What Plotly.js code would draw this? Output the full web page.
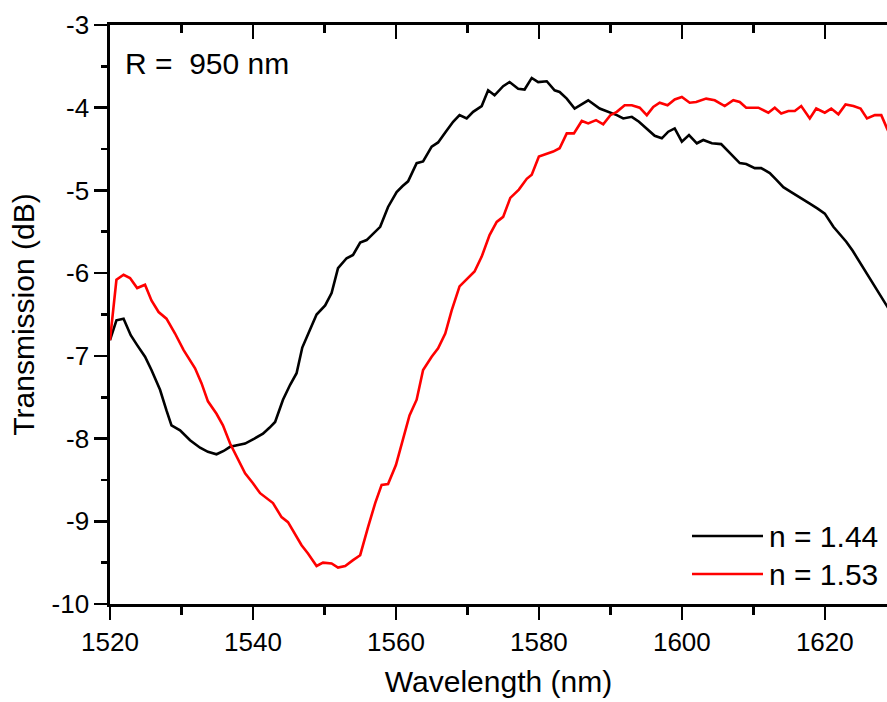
<!DOCTYPE html>
<html>
<head>
<meta charset="utf-8">
<script src="https://cdn.plot.ly/plotly-3.0.1.min.js"></script>
<style>
  html, body { margin: 0; padding: 0; background: #ffffff; overflow: hidden; }
  #chart { width: 887px; height: 702px; }
</style>
</head>
<body>
<div id="chart"></div>
<script>
// ---- data ----
const seriesNames = ["n = 1.44", "n = 1.53"];
const seriesColors = ["#000000", "#ff0000"];

const wlA = [1520.0,1520.9,1521.9,1522.9,1523.8,1524.9,1525.8,1527.0,1527.9,1528.6,1529.8,1531.2,1532.6,1533.7,1534.9,1535.9,1536.8,1538.0,1538.9,1540.2,1541.4,1542.3,1543.1,1544.2,1545.2,1546.1,1546.9,1547.9,1548.9,1550.1,1551.0,1551.9,1553.1,1554.0,1555.0,1555.9,1556.9,1557.8,1558.9,1560.1,1560.9,1561.7,1562.9,1563.8,1565.0,1565.9,1566.9,1568.0,1568.9,1569.9,1570.8,1572.0,1572.9,1573.8,1575.0,1575.9,1577.1,1578.0,1579.0,1579.9,1581.1,1582.2,1582.9,1583.9,1585.0,1586.0,1586.9,1588.5,1589.7,1590.9,1591.8,1593.0,1594.0,1594.8,1596.2,1597.2,1598.1,1599.0,1600.0,1601.0,1602.1,1603.0,1604.2,1605.5,1606.7,1608.1,1609.0,1610.2,1611.1,1612.3,1613.2,1614.2,1615.3,1616.5,1617.9,1619.0,1620.0,1621.2,1622.1,1623.0,1623.9,1624.7,1625.8,1626.9,1628.0,1629.0];
const tA = [-6.81,-6.57,-6.55,-6.75,-6.87,-7.01,-7.17,-7.41,-7.66,-7.84,-7.90,-8.02,-8.11,-8.16,-8.19,-8.15,-8.10,-8.08,-8.06,-8.00,-7.94,-7.87,-7.80,-7.53,-7.35,-7.21,-6.90,-6.70,-6.50,-6.39,-6.24,-5.94,-5.82,-5.78,-5.63,-5.60,-5.52,-5.44,-5.20,-5.02,-4.95,-4.89,-4.67,-4.65,-4.47,-4.42,-4.30,-4.17,-4.09,-4.13,-4.05,-3.98,-3.79,-3.85,-3.74,-3.69,-3.77,-3.78,-3.64,-3.69,-3.68,-3.79,-3.81,-3.89,-4.01,-3.96,-3.91,-4.01,-4.05,-4.09,-4.13,-4.11,-4.17,-4.23,-4.34,-4.37,-4.29,-4.25,-4.41,-4.33,-4.43,-4.39,-4.43,-4.44,-4.55,-4.67,-4.68,-4.73,-4.73,-4.79,-4.87,-4.96,-5.02,-5.08,-5.16,-5.22,-5.28,-5.44,-5.53,-5.62,-5.73,-5.84,-5.99,-6.15,-6.30,-6.44];

const wlB = [1520.0,1520.9,1521.9,1522.8,1523.8,1524.9,1525.8,1526.8,1527.9,1529.1,1530.3,1531.9,1532.8,1533.7,1534.9,1535.8,1536.8,1537.7,1538.9,1540.0,1541.0,1542.8,1544.0,1544.9,1545.8,1546.8,1547.7,1548.9,1549.8,1551.0,1551.9,1552.9,1554.0,1555.0,1556.1,1557.1,1558.0,1558.9,1560.0,1561.0,1561.9,1562.9,1563.8,1565.0,1565.9,1566.9,1567.8,1568.9,1570.1,1571.0,1572.0,1573.1,1574.1,1575.0,1576.0,1577.2,1578.3,1579.0,1580.0,1581.0,1582.0,1582.9,1583.9,1584.9,1586.0,1586.9,1588.0,1589.0,1590.0,1590.9,1592.0,1593.0,1594.1,1595.1,1596.0,1596.9,1598.0,1599.0,1600.0,1601.1,1602.0,1603.4,1604.6,1606.0,1607.2,1608.1,1609.0,1610.7,1612.1,1613.0,1613.9,1614.9,1615.8,1616.7,1617.9,1618.8,1620.0,1620.9,1621.9,1622.9,1624.0,1625.0,1625.9,1627.0,1627.9,1628.7,1629.5];
const tB = [-6.81,-6.08,-6.02,-6.06,-6.18,-6.14,-6.33,-6.47,-6.55,-6.73,-6.93,-7.15,-7.33,-7.55,-7.70,-7.84,-8.06,-8.22,-8.42,-8.54,-8.66,-8.78,-8.95,-9.01,-9.14,-9.29,-9.39,-9.54,-9.50,-9.51,-9.56,-9.54,-9.47,-9.41,-9.07,-8.78,-8.56,-8.55,-8.32,-7.99,-7.72,-7.53,-7.17,-7.01,-6.91,-6.73,-6.45,-6.16,-6.06,-5.98,-5.80,-5.54,-5.38,-5.32,-5.09,-4.99,-4.86,-4.81,-4.59,-4.56,-4.53,-4.49,-4.31,-4.31,-4.16,-4.19,-4.15,-4.20,-4.09,-4.05,-3.97,-3.97,-4.00,-4.09,-3.99,-3.94,-3.97,-3.90,-3.87,-3.94,-3.93,-3.89,-3.91,-3.98,-3.91,-3.93,-4.00,-4.00,-4.06,-4.00,-4.07,-4.04,-4.04,-3.98,-4.13,-4.01,-4.06,-4.01,-4.08,-3.96,-3.98,-4.01,-4.13,-4.09,-4.09,-4.25,-4.40];

const xTickVals = [1520, 1540, 1560, 1580, 1600, 1620];
const yTickVals = [-10, -9, -8, -7, -6, -5, -4, -3];
const yTickText = ["-10", "-9", "-8", "-7", "-6", "-5", "-4", "-3"];

const xTitle = "Wavelength (nm)";
const yTitle = "Transmission (dB)";
const noteText = "R =\u00a0\u00a0950 nm";

// ---- layout constants ----
const FONT = "Liberation Sans, Arial, Helvetica, sans-serif";
const W = 887, H = 702;
const M = {l: 110, r: 0, t: 25, b: 98};
const plotW = W - M.l - M.r, plotH = H - M.t - M.b;
const px = v => (v - M.l) / plotW;      // page x -> paper x
const py = v => (H - M.b - v) / plotH;  // page y -> paper y

const LW = 2.6;
const traces = [
  {x: wlA, y: tA, name: seriesNames[0], type: "scatter", mode: "lines",
   line: {color: seriesColors[0], width: LW}, showlegend: false},
  {x: wlB, y: tB, name: seriesNames[1], type: "scatter", mode: "lines",
   line: {color: seriesColors[1], width: LW}, showlegend: false},
  // invisible copy so the mirrored top axis is drawn
  {x: wlA, y: tA, xaxis: "x2", type: "scatter", mode: "lines",
   line: {color: "rgba(0,0,0,0)", width: 0}, showlegend: false, hoverinfo: "skip"}
];

const shapes = [];
const annotations = [
  {xref: "paper", yref: "paper", x: px(123), y: py(63), xanchor: "left", yanchor: "middle",
   text: noteText, showarrow: false, font: {family: FONT, size: 30, color: "#000"}}
];
const legRows = [536, 574];
seriesNames.forEach((nm, i) => {
  shapes.push({type: "line", xref: "paper", yref: "paper",
    x0: px(692), x1: px(763), y0: py(legRows[i]), y1: py(legRows[i]),
    line: {color: seriesColors[i], width: LW}});
  annotations.push({xref: "paper", yref: "paper", x: px(767), y: py(legRows[i]),
    xanchor: "left", yanchor: "middle", text: nm, showarrow: false,
    font: {family: FONT, size: 30, color: "#000"}});
});

const xRange = [1520, 1628.7];
const AXW = 2.6;
const layout = {
  width: W, height: H,
  margin: M,
  paper_bgcolor: "#ffffff", plot_bgcolor: "#ffffff",
  font: {family: FONT, color: "#000"},
  showlegend: false,
  xaxis: {
    range: xRange, tickmode: "array", tickvals: xTickVals,
    showgrid: false, zeroline: false,
    showline: true, linecolor: "#000", linewidth: AXW,
    ticks: "outside", ticklen: 13, tickwidth: AXW, tickcolor: "#000",
    minor: {dtick: 10, tick0: 1520, ticks: "outside", ticklen: 8, tickwidth: AXW, tickcolor: "#000", showgrid: false},
    tickfont: {family: FONT, size: 26, color: "#000"},
    title: {text: xTitle, font: {family: FONT, size: 30, color: "#000"}, standoff: 16},
    automargin: false
  },
  xaxis2: {
    range: xRange, tickmode: "array", tickvals: xTickVals,
    overlaying: "x", side: "top", anchor: "y",
    showgrid: false, zeroline: false, showticklabels: false,
    showline: true, linecolor: "#000", linewidth: AXW,
    ticks: "inside", ticklen: 14, tickwidth: AXW, tickcolor: "#000",
    minor: {dtick: 10, tick0: 1520, ticks: "inside", ticklen: 8, tickwidth: AXW, tickcolor: "#000", showgrid: false}
  },
  yaxis: {
    range: [-10, -3], tickmode: "array", tickvals: yTickVals, ticktext: yTickText,
    showgrid: false, zeroline: false,
    showline: true, linecolor: "#000", linewidth: AXW,
    ticks: "outside", ticklen: 13, tickwidth: AXW, tickcolor: "#000",
    minor: {dtick: 0.5, tick0: -10, ticks: "outside", ticklen: 6, tickwidth: AXW, tickcolor: "#000", showgrid: false},
    tickfont: {family: FONT, size: 26, color: "#000"},
    title: {text: yTitle, font: {family: FONT, size: 30, color: "#000"}, standoff: 8},
    automargin: false
  },
  shapes: shapes,
  annotations: annotations
};

Plotly.newPlot("chart", traces, layout, {displayModeBar: false, staticPlot: true});
</script>
</body>
</html>
